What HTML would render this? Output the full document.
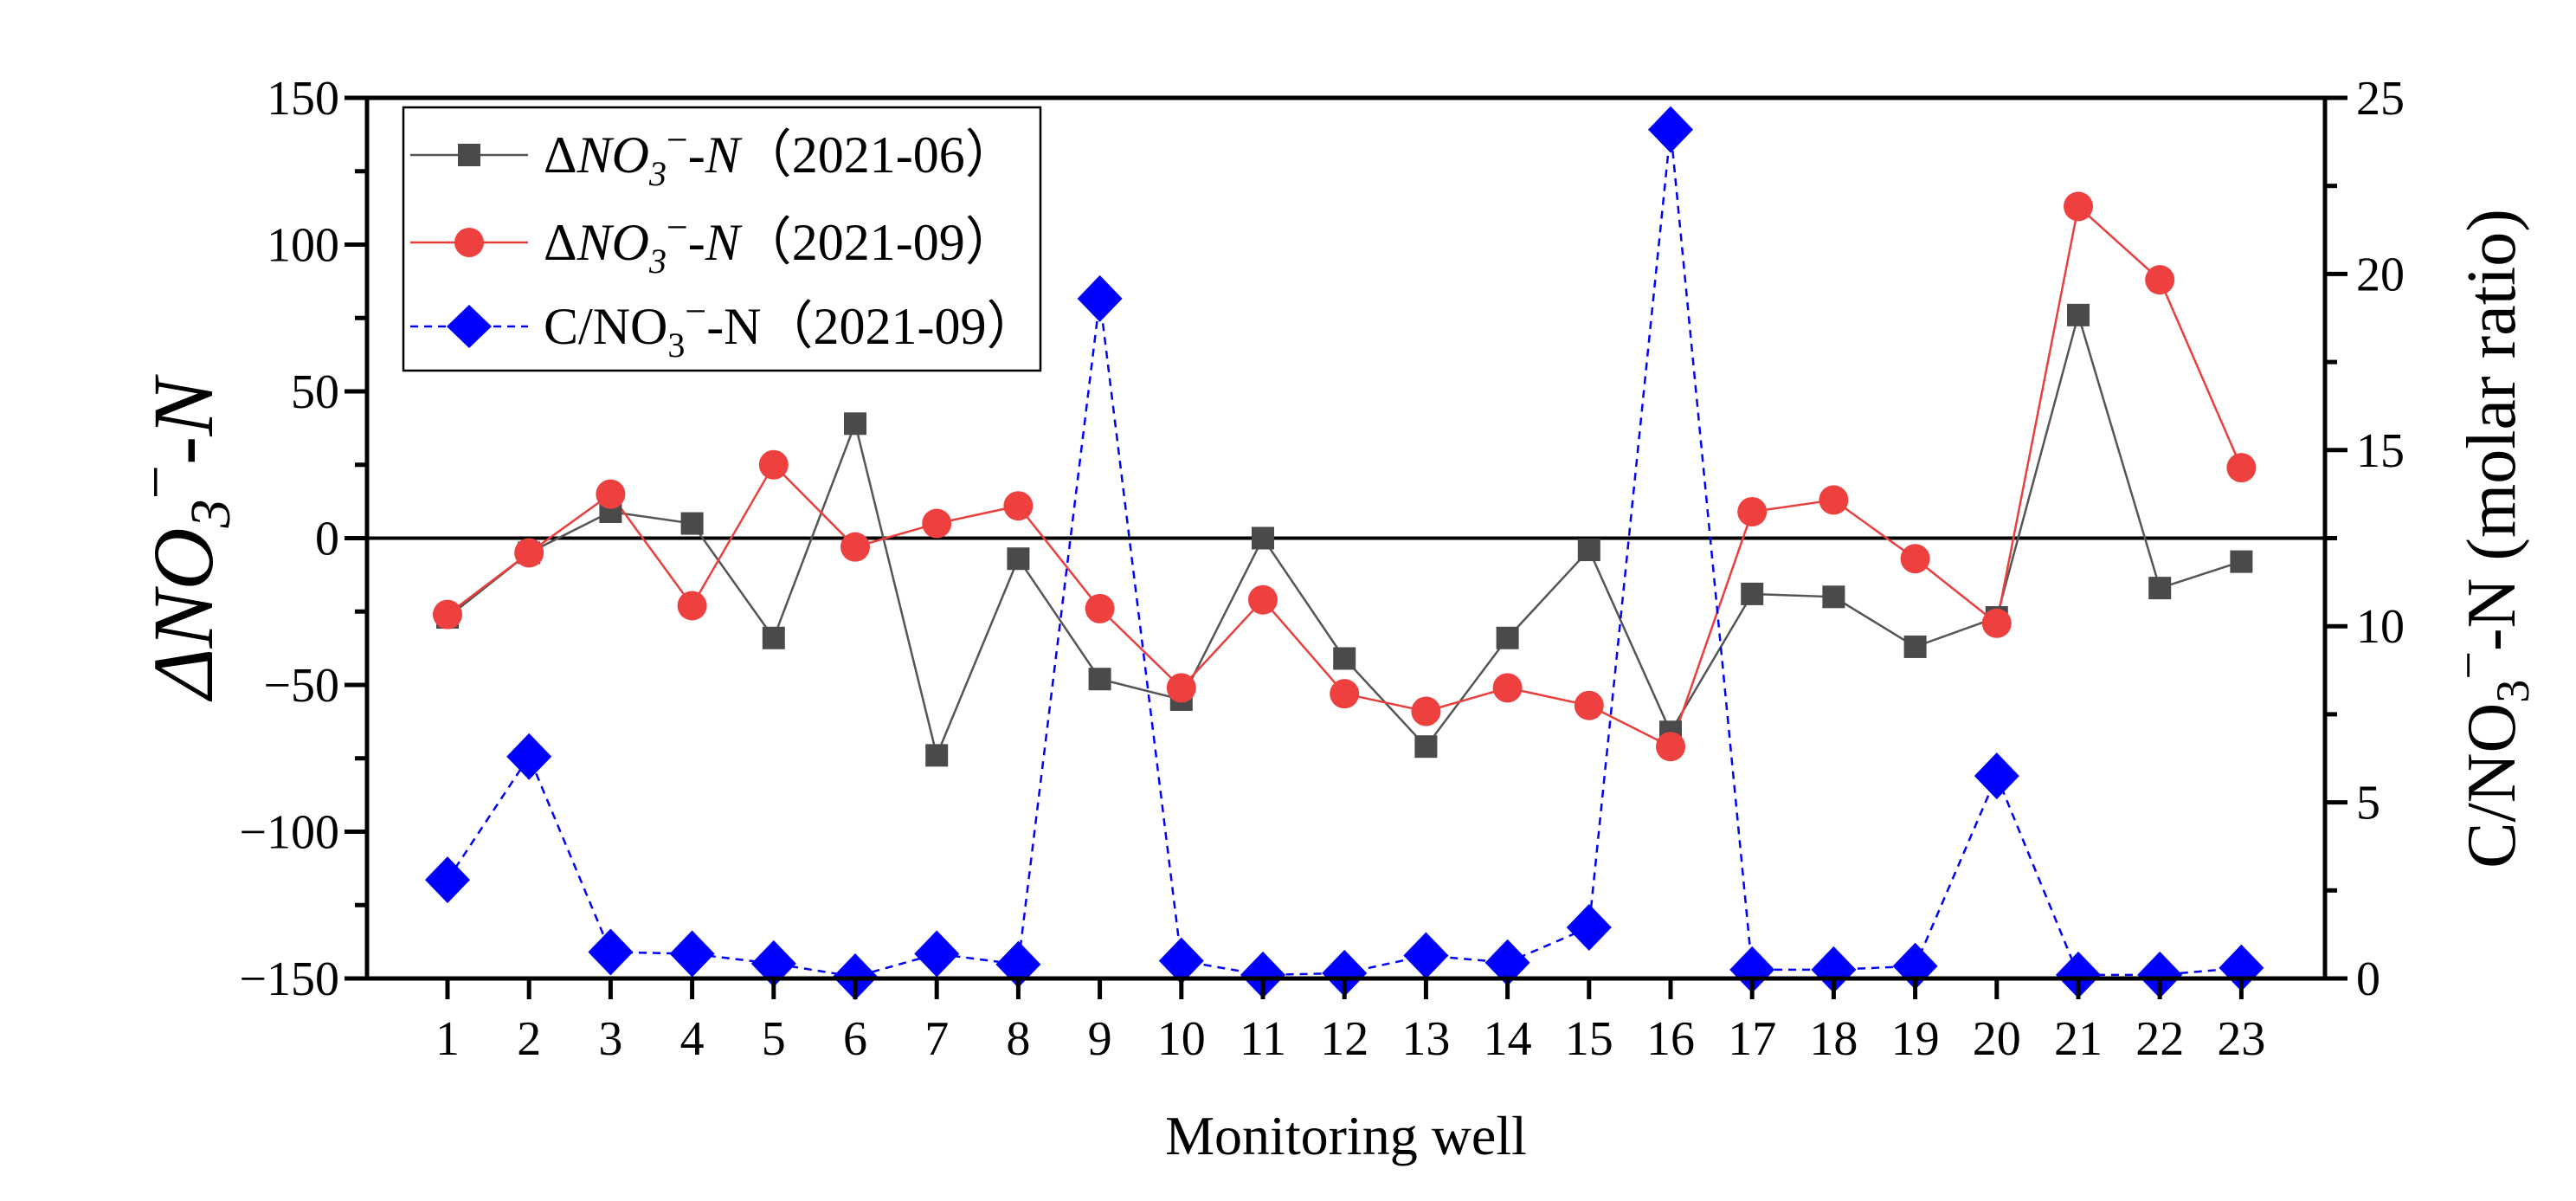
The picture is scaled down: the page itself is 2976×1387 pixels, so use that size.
<!DOCTYPE html>
<html><head><meta charset="utf-8"><style>
html,body{margin:0;padding:0;background:#fff;}
svg, svg text{font-family:"Liberation Serif","Times New Roman",serif;}
svg{display:block;}
</style></head><body>
<svg id="chart" width="2976" height="1387" viewBox="0 0 2976 1387" xmlns="http://www.w3.org/2000/svg" font-family="Liberation Serif, serif">
<g id="marks"></g>
<g id="axes"></g>
<text transform="translate(245,622) rotate(-90)" text-anchor="middle" font-size="100" font-style="italic">ΔNO<tspan font-size="66" dy="20">3</tspan><tspan dy="-62" font-size="70" font-style="normal">−</tspan><tspan dy="42">-N</tspan></text>
<text transform="translate(2905,622) rotate(-90)" text-anchor="middle" font-size="80">C/NO<tspan font-size="54" dy="16">3</tspan><tspan dy="-50" font-size="58">−</tspan><tspan dy="34">-N (molar ratio)</tspan></text>
<text x="1555" y="1333" text-anchor="middle" font-size="64">Monitoring well</text>
<g>
<rect x="466" y="124" width="736" height="304" fill="#fff" stroke="#000" stroke-width="2.5"/>
<line x1="474" y1="179" x2="610" y2="179" stroke="#555" stroke-width="2.5"/>
<rect x="529" y="166" width="26" height="26" fill="#4a4a4a"/>
<text x="628" y="199" font-size="60"><tspan>Δ</tspan><tspan font-style="italic">NO</tspan><tspan font-style="italic" font-size="40" dy="15">3</tspan><tspan dy="-38" font-size="44">−</tspan><tspan dy="23" font-style="italic">-N</tspan>（2021-06）</text>
<line x1="474" y1="280" x2="610" y2="280" stroke="#e8403d" stroke-width="2.5"/>
<circle cx="542" cy="280" r="17" fill="#ef4040"/>
<text x="628" y="300" font-size="60"><tspan>Δ</tspan><tspan font-style="italic">NO</tspan><tspan font-style="italic" font-size="40" dy="15">3</tspan><tspan dy="-38" font-size="44">−</tspan><tspan dy="23" font-style="italic">-N</tspan>（2021-09）</text>
<line x1="474" y1="377" x2="610" y2="377" stroke="#0000ff" stroke-width="2.5" stroke-dasharray="9,7"/>
<polygon points="542,352 568,377 542,402 516,377" fill="#0000ff"/>
<text x="628" y="397" font-size="60">C/NO<tspan font-size="40" dy="15">3</tspan><tspan dy="-38" font-size="44">−</tspan><tspan dy="23">-N</tspan>（2021-09）</text>
</g>
</svg>
<script>
const wells = [1,2,3,4,5,6,7,8,9,10,11,12,13,14,15,16,17,18,19,20,21,22,23];
const june = [-27,-5,9,5,-34,39,-74,-7,-48,-55,0,-41,-71,-34,-4,-66,-19,-20,-37,-27,76,-17,-8];
const sept = [-26,-5,15,-23,25,-3,5,11,-24,-51,-21,-53,-59,-51,-57,-71,9,13,-7,-29,113,88,24];
const ratio = [2.8,6.3,0.75,0.7,0.42,0.05,0.7,0.4,19.3,0.5,0.1,0.15,0.65,0.45,1.45,24.1,0.25,0.25,0.35,5.75,0.1,0.1,0.3];
const yTicks = [-150,-100,-50,0,50,100,150];
const y2Ticks = [0,5,10,15,20,25];

const L=424,R=2686,T=113,B=1130;
const NS="http://www.w3.org/2000/svg";
const xS=w=>517+(w-1)*94.2;
const yS=v=>B-(v+150)/300*(B-T);
const y2S=v=>B-v/25*(B-T);
const marks=document.getElementById('marks'), axes=document.getElementById('axes');
function mk(tag,at,parent){const e=document.createElementNS(NS,tag);for(const k in at)e.setAttribute(k,at[k]);parent.appendChild(e);return e;}

let z=mk('line',{x1:L,x2:R,y1:yS(0),y2:yS(0),stroke:'#000','stroke-width':4},marks);



function series(vals,sc,color,dash,name){
  const p=mk('polyline',{points:vals.map((v,i)=>xS(wells[i])+','+sc(v)).join(' '),fill:'none',stroke:color,'stroke-width':2.5},marks);
  if(dash)p.setAttribute('stroke-dasharray',dash);
  
  
}
series(june,yS,'#555',null,'june');
series(sept,yS,'#e8403d',null,'sept');
series(ratio,y2S,'#0000ff','9,7','ratio');
june.forEach((v,i)=>{const e=mk('rect',{x:xS(wells[i])-13,y:yS(v)-13,width:26,height:26,fill:'#4a4a4a'},marks);
  
  });
sept.forEach((v,i)=>{const e=mk('circle',{cx:xS(wells[i]),cy:yS(v),r:17,fill:'#ef4040'},marks);
  
  });
ratio.forEach((v,i)=>{const x=xS(wells[i]),y=y2S(v);const e=mk('polygon',{points:`${x},${y-27} ${x+26},${y} ${x},${y+27} ${x-26},${y}`,fill:'#0000ff'},marks);
  
  });

const fr=mk('rect',{x:L,y:T,width:R-L,height:B-T,fill:'none',stroke:'#000','stroke-width':5},axes);


for(let v=-150;v<=150;v+=25){const y=yS(v);const major=v%50===0;mk('line',{x1:L,x2:L-(major?26:14),y1:y,y2:y,stroke:'#000','stroke-width':5},axes);}
yTicks.forEach(v=>{const t=mk('text',{x:L-32,y:yS(v)+19,'text-anchor':'end','font-size':56,'font-family':'Liberation Serif, serif'},axes);t.textContent=v<0?'\u2212'+Math.abs(v):String(v);
  
  });
for(let v=0;v<=25;v+=2.5){const y=y2S(v);const major=v%5===0;mk('line',{x1:R,x2:R+(major?26:14),y1:y,y2:y,stroke:'#000','stroke-width':5},axes);}
y2Ticks.forEach(v=>{const t=mk('text',{x:R+36,y:y2S(v)+19,'font-size':56,'font-family':'Liberation Serif, serif'},axes);t.textContent=String(v);
  
  });
wells.forEach(w=>{const x=xS(w);mk('line',{x1:x,x2:x,y1:B,y2:B+24,stroke:'#000','stroke-width':5},axes);
  const t=mk('text',{x:x,y:B+88,'text-anchor':'middle','font-size':56,'font-family':'Liberation Serif, serif'},axes);t.textContent=String(w);
  
  });
</script>
</body></html>
